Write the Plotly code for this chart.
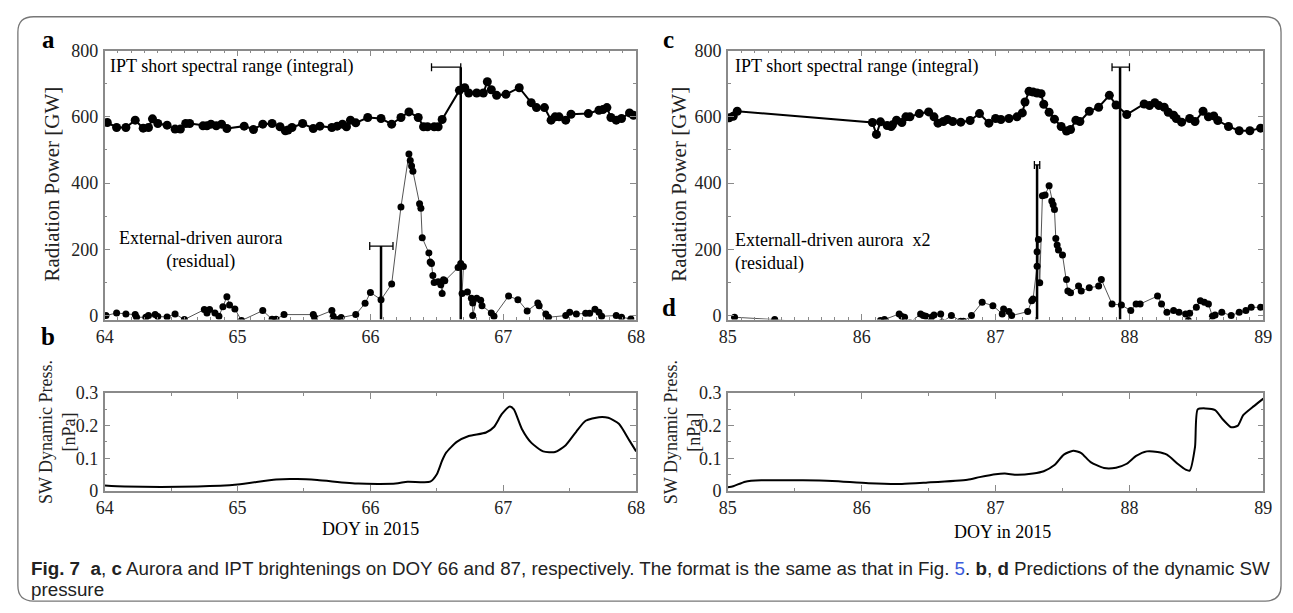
import plotly.graph_objects as go

W, H = 1293, 613

# ---------------- data ----------------
# Panel a: IPT short spectral range (integral), DOY 64-68
a_ipt_x = [64.02, 64.09, 64.16, 64.23, 64.29, 64.33, 64.36, 64.40, 64.47, 64.53, 64.57, 64.61, 64.64,
           64.74, 64.77, 64.80, 64.84, 64.88, 64.92, 65.05, 65.12, 65.19, 65.26, 65.32, 65.36, 65.38,
           65.41, 65.49, 65.57, 65.62, 65.71, 65.75, 65.79, 65.82, 65.85, 65.89, 65.98, 66.08, 66.16,
           66.23, 66.29, 66.36, 66.40, 66.43, 66.48, 66.51, 66.54, 66.67, 66.71, 66.74, 66.80, 66.85,
           66.88, 66.91, 66.95, 67.02, 67.12, 67.21, 67.25, 67.31, 67.36, 67.39, 67.42, 67.47, 67.51,
           67.64, 67.72, 67.75, 67.78, 67.81, 67.85, 67.89, 67.95, 67.98]
a_ipt_y = [583, 568, 568, 590, 566, 568, 594, 580, 575, 563, 563, 580, 580,
           573, 573, 578, 573, 578, 565, 572, 562, 578, 580, 570, 558, 560,
           568, 580, 565, 572, 568, 572, 578, 570, 590, 582, 598, 595, 578,
           598, 615, 598, 570, 570, 570, 570, 592, 680, 688, 672, 672, 672,
           706, 682, 665, 668, 688, 643, 628, 628, 590, 600, 600, 590, 608,
           610, 620, 622, 628, 598, 590, 595, 612, 605]

# Panel a: external-driven aurora (residual)
a_res_x = [64.01, 64.09, 64.16, 64.23, 64.24, 64.31, 64.33, 64.38, 64.40, 64.47, 64.53, 64.60,
           64.75, 64.77, 64.79, 64.83, 64.86, 64.89, 64.92, 64.94, 64.98, 65.03, 65.19, 65.26,
           65.29, 65.35, 65.57, 65.58, 65.71, 65.72, 65.75, 65.78, 65.89, 65.96, 66.00, 66.08,
           66.16, 66.23, 66.29, 66.30, 66.31, 66.32, 66.37, 66.38, 66.39, 66.44, 66.45, 66.46,
           66.47, 66.48, 66.51, 66.53, 66.54, 66.55, 66.56, 66.66, 66.68, 66.70, 66.69, 66.73,
           66.76, 66.77, 66.77, 66.80, 66.83, 66.84, 66.91, 66.93, 67.04, 67.11, 67.18, 67.26,
           67.27, 67.32, 67.34, 67.47, 67.50, 67.55, 67.62, 67.65, 67.69, 67.72, 67.74, 67.85,
           67.89, 67.96]
a_res_y = [0, 8, 5, 3, -5, -5, 0, 3, -3, -4, 5, -12,
           18, 8, 18, 8, -2, 27, 57, 32, 20, -15, 15, -11,
           -11, 3, 3, -6, 15, -2, -12, -6, 3, 37, 70, 48,
           95, 328, 488, 468, 452, 436, 338, 324, 235, 189, 162, 157,
           121, 100, 102, 93, 67, 108, 105, 145, 157, 148, 67, 71,
           52, 38, 0, 52, 46, 30, 8, -2, 59, 48, 14, 38,
           30, 5, -5, 0, 10, 5, 7, 7, 19, 10, -2, 0,
           -5, -10]

# Panel c: IPT short spectral range (integral), DOY 85-89
c_ipt_x = [85.01, 85.04, 85.07, 86.08, 86.11, 86.14, 86.19, 86.22, 86.23, 86.26, 86.30, 86.33,
           86.36, 86.43, 86.50, 86.54, 86.57, 86.61, 86.64, 86.68, 86.74, 86.81, 86.88, 86.95,
           87.00, 87.04, 87.10, 87.16, 87.20, 87.22, 87.25, 87.28, 87.31, 87.34, 87.36, 87.40,
           87.44, 87.49, 87.53, 87.56, 87.60, 87.63, 87.70, 87.77, 87.85, 87.90, 87.98, 88.11,
           88.15, 88.19, 88.22, 88.26, 88.29, 88.33, 88.35, 88.39, 88.45, 88.49, 88.55, 88.59,
           88.63, 88.66, 88.74, 88.82, 88.90, 88.98]
c_ipt_y = [597, 602, 617, 583, 547, 585, 574, 571, 576, 590, 583, 600,
           600, 610, 615, 600, 581, 586, 592, 586, 584, 589, 610, 581,
           595, 592, 595, 600, 612, 645, 677, 675, 672, 670, 638, 614,
           593, 571, 557, 562, 590, 586, 617, 629, 665, 636, 607, 639,
           634, 643, 634, 629, 614, 605, 595, 584, 595, 586, 617, 600,
           603, 589, 571, 558, 558, 566]

# Panel c: externall-driven aurora x2 (residual)
c_res_x = [85.05, 85.35, 85.70, 86.14, 86.17, 86.28, 86.30, 86.32, 86.36, 86.44, 86.46, 86.48,
           86.52, 86.54, 86.59, 86.60, 86.67, 86.74, 86.76, 86.82, 86.90, 86.98, 87.05, 87.06,
           87.10, 87.12, 87.24, 87.27, 87.28, 87.31, 87.31, 87.32, 87.33, 87.35, 87.37, 87.40,
           87.42, 87.43, 87.44, 87.45, 87.46, 87.47, 87.50, 87.53, 87.54, 87.56, 87.62, 87.64,
           87.70, 87.77, 87.79, 87.87, 87.94, 88.01, 88.05, 88.08, 88.21, 88.24, 88.28, 88.33,
           88.37, 88.42, 88.44, 88.45, 88.50, 88.53, 88.56, 88.59, 88.62, 88.64, 88.69, 88.76,
           88.82, 88.87, 88.91, 88.98]
c_res_y = [-5, -12, -25, -15, -12, 5, -3, -5, -22, 5, 0, -2,
           -5, 2, 5, -20, 0, -17, -17, 0, 40, 30, 5, 20,
           12, 0, 12, 45, 50, 149, 193, 230, 99, 362, 364, 392,
           346, 335, 320, 233, 213, 198, 183, 109, 74, 69, 89, 74,
           84, 89, 109, 35, 32, 15, 35, 35, 59, 35, 10, 15,
           10, 5, -15, 7, 25, 45, 40, 35, -2, 2, 10, 0,
           10, 15, 25, 25]

# Panel b: SW dynamic pressure, DOY 64-68
b_x = [64.00, 64.15, 64.70, 65.00, 65.29, 65.45, 65.60, 65.91, 66.19, 66.28, 66.45, 66.50,
       66.54, 66.57, 66.65, 66.74, 66.87, 66.93, 66.99, 67.05, 67.08, 67.14, 67.21, 67.30,
       67.39, 67.47, 67.55, 67.62, 67.72, 67.79, 67.87, 67.95, 68.00]
b_y = [0.016, 0.013, 0.013, 0.019, 0.035, 0.036, 0.033, 0.022, 0.022, 0.028, 0.028, 0.051,
       0.093, 0.117, 0.150, 0.168, 0.179, 0.196, 0.236, 0.259, 0.250, 0.190, 0.148, 0.121,
       0.119, 0.140, 0.182, 0.215, 0.226, 0.224, 0.206, 0.154, 0.121]

# Panel d: SW dynamic pressure, DOY 85-89
d_x = [85.00, 85.04, 85.13, 85.25, 85.56, 85.78, 86.05, 86.30, 86.48, 86.79, 86.88, 87.00,
       87.07, 87.16, 87.28, 87.36, 87.44, 87.51, 87.58, 87.64, 87.71, 87.81, 87.90, 87.98,
       88.05, 88.13, 88.21, 88.28, 88.36, 88.42, 88.45, 88.49, 88.51, 88.57, 88.64, 88.70,
       88.76, 88.81, 88.85, 88.93, 89.00]
d_y = [0.011, 0.014, 0.028, 0.032, 0.032, 0.030, 0.023, 0.021, 0.025, 0.034, 0.042, 0.051,
       0.053, 0.049, 0.053, 0.060, 0.079, 0.111, 0.123, 0.116, 0.088, 0.070, 0.071, 0.083,
       0.107, 0.121, 0.119, 0.111, 0.083, 0.065, 0.062, 0.135, 0.250, 0.253, 0.248, 0.218,
       0.195, 0.200, 0.232, 0.260, 0.283]

# Event markers (vertical line + horizontal uncertainty bar)
a_ev_x = [66.68, 66.08]
a_ev_top = [750, 210]
a_ev_lo = [66.46, 65.995]
a_ev_hi = [66.68, 66.17]
c_ev_x = [87.93, 87.31]
c_ev_top = [750, 455]
c_ev_lo = [87.87, 87.29]
c_ev_hi = [88.00, 87.33]
ev_bottom = -12

# ---------------- figure ----------------
SERIF = "Liberation Serif"
FRAME = "#8a8a8a"

fig = go.Figure()

def px_x(p):
    return p / W

def px_y(p):
    return 1 - p / H

def add_events(xs, tops, los, his, xa, ya):
    for x, t, lo, hi in zip(xs, tops, los, his):
        fig.add_trace(go.Scatter(x=[x, x], y=[ev_bottom, t], mode="lines",
                                 line=dict(color="black", width=2.5),
                                 xaxis=xa, yaxis=ya, showlegend=False, hoverinfo="skip"))
        fig.add_trace(go.Scatter(x=[x], y=[t], mode="markers", marker=dict(size=1, color="rgba(0,0,0,0)"),
                                 error_x=dict(type="data", symmetric=False, array=[hi - x],
                                              arrayminus=[x - lo], color="black", thickness=1.3, width=4),
                                 xaxis=xa, yaxis=ya, showlegend=False, hoverinfo="skip"))

# panel a
fig.add_trace(go.Scatter(x=a_res_x, y=a_res_y, mode="lines+markers",
                         line=dict(color="#555", width=1), marker=dict(color="black", size=7),
                         xaxis="x", yaxis="y", showlegend=False))
fig.add_trace(go.Scatter(x=a_ipt_x, y=a_ipt_y, mode="lines+markers",
                         line=dict(color="black", width=2), marker=dict(color="black", size=9),
                         xaxis="x", yaxis="y", showlegend=False))
add_events(a_ev_x, a_ev_top, a_ev_lo, a_ev_hi, "x", "y")

# panel c
fig.add_trace(go.Scatter(x=c_res_x, y=c_res_y, mode="lines+markers",
                         line=dict(color="#555", width=1), marker=dict(color="black", size=7),
                         xaxis="x2", yaxis="y2", showlegend=False))
fig.add_trace(go.Scatter(x=c_ipt_x, y=c_ipt_y, mode="lines+markers",
                         line=dict(color="black", width=2), marker=dict(color="black", size=9),
                         xaxis="x2", yaxis="y2", showlegend=False))
add_events(c_ev_x, c_ev_top, c_ev_lo, c_ev_hi, "x2", "y2")

# panel b, d
fig.add_trace(go.Scatter(x=b_x, y=b_y, mode="lines", line=dict(color="black", width=2, shape="spline", smoothing=0.6),
                         xaxis="x3", yaxis="y3", showlegend=False))
fig.add_trace(go.Scatter(x=d_x, y=d_y, mode="lines", line=dict(color="black", width=2, shape="spline", smoothing=0.6),
                         xaxis="x4", yaxis="y4", showlegend=False))

def tickfont():
    return dict(family=SERIF, size=18, color="#222")

def xaxis(dom, rng, minor_dtick, anchor):
    return dict(domain=dom, range=rng, anchor=anchor, dtick=1, tick0=rng[0],
                ticks="inside", ticklen=6, tickcolor=FRAME, tickwidth=1,
                minor=dict(dtick=minor_dtick, ticks="inside", ticklen=3, tickcolor=FRAME),
                showline=True, linecolor=FRAME, linewidth=1.5, mirror="ticks",
                showgrid=False, zeroline=False, tickfont=tickfont(), ticklabelstandoff=0)

def yaxis(dom, rng, dtick, minor, anchor, tickvals=None):
    d = dict(domain=dom, range=rng, anchor=anchor, dtick=dtick, tick0=0,
             ticks="inside", ticklen=6, tickcolor=FRAME, tickwidth=1,
             minor=dict(dtick=minor, ticks="inside", ticklen=3, tickcolor=FRAME),
             showline=True, linecolor=FRAME, linewidth=1.5, mirror="ticks",
             showgrid=False, zeroline=False, tickfont=tickfont(), ticklabelstandoff=1)
    if tickvals is not None:
        d["tickvals"] = tickvals
    return d

top_dom = [px_y(320), px_y(42)]
bot_dom = [px_y(497), px_y(396)]
left_dom = [px_x(97), px_x(636)]
right_dom = [px_x(729), px_x(1272)]

fig.update_layout(
    width=W, height=H, margin=dict(l=0, r=0, t=0, b=0),
    paper_bgcolor="white", plot_bgcolor="white",
    font=dict(family=SERIF, color="black"),
    xaxis=xaxis(left_dom, [64, 68], 0.1, "y"),
    yaxis=yaxis(top_dom, [-12, 800], 200, 100, "x", [0, 200, 400, 600, 800]),
    xaxis2=xaxis(right_dom, [85, 89], 0.1, "y2"),
    yaxis2=yaxis(top_dom, [-12, 800], 200, 100, "x2", [0, 200, 400, 600, 800]),
    xaxis3=xaxis(left_dom, [64, 68], 0.5, "y3"),
    yaxis3=yaxis(bot_dom, [0, 0.3], 0.1, 0.05, "x3", [0, 0.1, 0.2, 0.3]),
    xaxis4=xaxis(right_dom, [85, 89], 0.5, "y4"),
    yaxis4=yaxis(bot_dom, [0, 0.3], 0.1, 0.05, "x4", [0, 0.1, 0.2, 0.3]),
)
fig.update_layout(yaxis3_ticktext=["0", "0.1", "0.2", "0.3"], yaxis4_ticktext=["0", "0.1", "0.2", "0.3"])

ann = []
def text(x, y, s, size=17, xanchor="left", yanchor="middle", bold=False, align="left"):
    ann.append(dict(x=px_x(x), y=px_y(y), xref="paper", yref="paper", text=(f"<b>{s}</b>" if bold else s),
                    showarrow=False, xanchor=xanchor, yanchor=yanchor, align=align,
                    font=dict(family=SERIF, size=size, color="black")))

text(40, 30, "a", size=25, bold=True, xanchor="center")
text(40, 338, "b", size=25, bold=True, xanchor="center")
text(669, 30, "c", size=25, bold=True, xanchor="center")
text(669, 308, "d", size=25, bold=True, xanchor="center")

text(100, 58, "IPT short spectral range (integral)", size=18)
text(734, 58, "IPT short spectral range (integral)", size=18)
text(194, 248, "External-driven aurora<br>(residual)", xanchor="center", align="center", size=18)
text(734, 250, "Externall-driven aurora  x2<br>(residual)", align="left", size=18)

text(367, 536, "DOY in 2015", size=18, xanchor="center")
text(1008, 540, "DOY in 2015", size=18, xanchor="center")

for xc, xs in ((44, 49), (680, 683)):
    ann.append(dict(x=px_x(xc), y=px_y(180), xref="paper", yref="paper", text="Radiation Power [GW]",
                    textangle=-90, showarrow=False, xanchor="center", yanchor="middle",
                    font=dict(family=SERIF, size=21, color="#222")))
    ann.append(dict(x=px_x(xs), y=px_y(436), xref="paper", yref="paper",
                    text="SW Dynamic Press.<br>[nPa]", textangle=-90, showarrow=False,
                    xanchor="center", yanchor="middle", align="center",
                    font=dict(family=SERIF, size=18, color="#222")))

CAP = "Liberation Sans"
ann.append(dict(x=px_x(20), y=px_y(577), xref="paper", yref="paper", showarrow=False,
                xanchor="left", yanchor="middle", align="left",
                font=dict(family=CAP, size=18.8, color="#222"),
                text="<b>Fig. 7</b>  <b>a</b>, <b>c</b> Aurora and IPT brightenings on DOY 66 and 87, respectively. "
                     "The format is the same as that in Fig. <span style='color:#3b5bdb'>5</span>. "
                     "<b>b</b>, <b>d</b> Predictions of the dynamic SW"))
ann.append(dict(x=px_x(20), y=px_y(599), xref="paper", yref="paper", showarrow=False,
                xanchor="left", yanchor="middle", align="left",
                font=dict(family=CAP, size=18.8, color="#222"), text="pressure"))

fig.update_layout(annotations=ann)

# rounded outer frame
x0, x1, y0, y1, r = 9, 1290, 7, 611, 16
def P(x, y):
    return f"{x/W:.5f},{1 - y/H:.5f}"
path = (f"M {P(x0 + r, y0)} L {P(x1 - r, y0)} Q {P(x1, y0)} {P(x1, y0 + r)} "
        f"L {P(x1, y1 - r)} Q {P(x1, y1)} {P(x1 - r, y1)} L {P(x0 + r, y1)} "
        f"Q {P(x0, y1)} {P(x0, y1 - r)} L {P(x0, y0 + r)} Q {P(x0, y0)} {P(x0 + r, y0)} Z")
fig.add_shape(type="path", path=path, xref="paper", yref="paper",
              line=dict(color="#777", width=1.3), layer="below")

fig.write_html("out.html")
